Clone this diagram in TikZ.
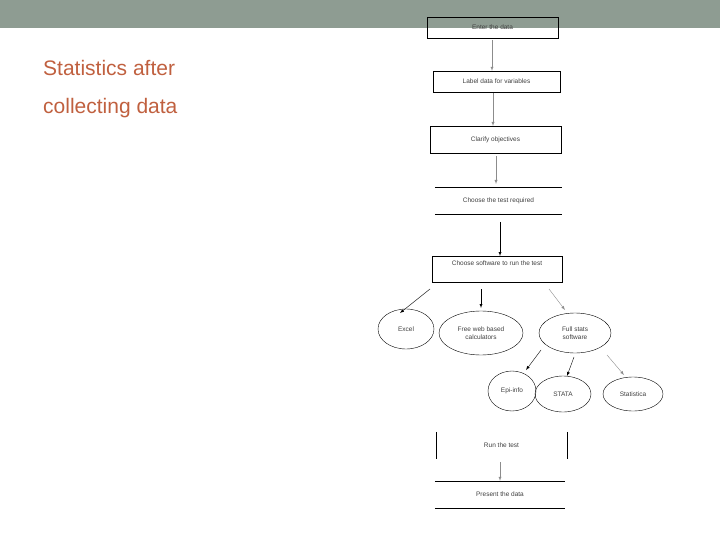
\documentclass[tikz,border=0pt]{standalone}
\usepackage{fontspec}
\setmainfont{Liberation Sans}
\usetikzlibrary{shapes.geometric}
\definecolor{bar}{HTML}{8E9C92}
\definecolor{ttl}{HTML}{C0603F}
\begin{document}
\begin{tikzpicture}[x=1pt,y=-1pt,
  txt/.style={font=\fontsize{6.5}{7.5}\selectfont,text=black!75,align=center},
  bx/.style={draw,thin,minimum width=#1,minimum height=21,inner sep=0},
  el/.style={draw,thin,ellipse,inner sep=0,txt},
  ar/.style={-latex,thin,draw=black!45},
  arb/.style={-latex,thin,draw=black}]
\useasboundingbox (0,0) rectangle (720,540);
\fill[bar] (0,0) rectangle (720,28);
\node[anchor=north west,text=ttl,font=\fontsize{21}{38}\selectfont,align=left,inner sep=0] (title) at (43,60) {Statistics after\\collecting data};
\node[bx=131,txt] (b1) at (492.5,27.5) {Enter the data};
\node[bx=127,txt] (b2) at (496.5,81.5) {Label data for variables};
\node[bx=131,minimum height=27,txt,anchor=north] (b3) at (495.5,126) {Clarify objectives};
\node[txt,minimum width=127,minimum height=27] (b4) at (498.5,200.5) {Choose the test required};
\draw[thin] (b4.north west)--(b4.north east) (b4.south west)--(b4.south east);
\node[bx=130,minimum height=26,txt,anchor=north] (b5) at (497,256) {};
\node[txt,anchor=north] at (b5.north) [yshift=-1] {Choose software to run the test};
\node[el,minimum width=56,minimum height=40] (ex) at (406,329) {Excel};
\node[el,minimum width=84,minimum height=44] (fw) at (481,333) {Free web based\\calculators};
\node[el,minimum width=72,minimum height=40] (fs) at (575,333) {Full stats\\software};
\node[el,minimum width=48,minimum height=40] (ep) at (512,391) {Epi-info};
\node[el,minimum width=56,minimum height=36] (st) at (563,394) {STATA};
\node[el,minimum width=60,minimum height=34] (sa) at (633,394) {Statistica};
\node[txt,minimum width=131,minimum height=27] (b6) at (501.5,445.5) {Run the test};
\draw[thin] (b6.north west)--(b6.south west) (b6.north east)--(b6.south east);
\node[txt,minimum width=130,minimum height=27] (b7) at (500,494.5) {Present the data};
\draw[thin] (b7.north west)--(b7.north east) (b7.south west)--(b7.south east);
\coordinate (a1) at (430,289); \coordinate (a2) at (481,289); \coordinate (a3) at (549,289);
\coordinate (c1) at (541,350); \coordinate (c2) at (574,357); \coordinate (c3) at (607,355);
\draw[ar] (492,40)--(b2.north-|492,0);
\draw[ar] (493,93)--(b3.north-|493,0);
\draw[ar] (496,156)--(496,184);
\draw[arb] (500,222)--(b5.north-|500,0);
\draw[arb] (a1)--(400,313);
\draw[arb] (a2)--(481,308);
\draw[ar] (a3)--(565,310);
\draw[arb] (c1)--(526,370);
\draw[arb] (c2)--(567,376);
\draw[ar] (c3)--(624,375);
\draw[ar] (500,462)--(b7.north-|500,0);
\end{tikzpicture}
\end{document}
